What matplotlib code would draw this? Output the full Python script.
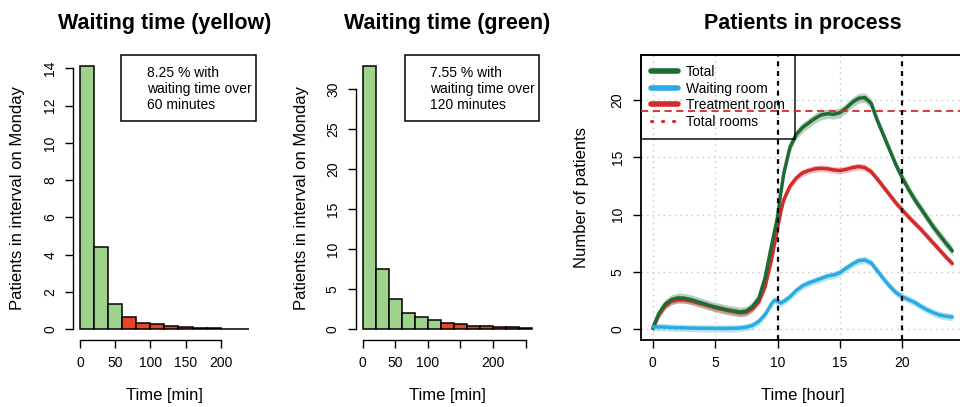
import matplotlib
matplotlib.use("Agg")
import matplotlib.pyplot as plt
from matplotlib.patches import Rectangle
from matplotlib.lines import Line2D

plt.rcParams['font.family'] = ['Liberation Sans', 'DejaVu Sans']

# ---------------- data ----------------
# Histogram 1 (yellow): 20-minute bins from 0 to 240
yellow_edges = [0, 20, 40, 60, 80, 100, 120, 140, 160, 180, 200, 220]
yellow_counts = [14.13, 4.40, 1.34, 0.66, 0.36, 0.30, 0.18, 0.12, 0.08, 0.05, 0.03, 0.02]
yellow_threshold = 60
yellow_text = "8.25 % with\nwaiting time over\n60 minutes"
yellow_xticks = [0, 50, 100, 150, 200]
yellow_xticklabels = ["0", "50", "100", "150", "200"]
yellow_yticks = [0, 2, 4, 6, 8, 10, 12, 14]

# Histogram 2 (green): 20-minute bins from 0 to 260
green_edges = [0, 20, 40, 60, 80, 100, 120, 140, 160, 180, 200, 220, 240]
green_counts = [32.9, 7.5, 3.75, 2.0, 1.58, 1.17, 0.83, 0.62, 0.46, 0.37, 0.25, 0.25, 0.12]
green_threshold = 120
green_text = "7.55 % with\nwaiting time over\n120 minutes"
green_xticks = [0, 50, 100, 150, 200, 250]
green_xticklabels = ["0", "50", "100", "", "200", ""]
green_yticks = [0, 5, 10, 15, 20, 25, 30]

# Patients in process
hours = [0, 0.5, 1, 1.5, 2, 2.5, 3, 3.5, 4, 4.5, 5, 5.5, 6, 6.5, 7, 7.5, 8, 8.5,
         9, 9.5, 9.75, 10, 10.25, 10.5, 11, 11.5, 12, 12.5, 13, 13.5, 14, 14.5,
         15, 15.5, 16, 16.5, 17, 17.5, 18, 18.5, 19, 19.5, 20, 20.5, 21, 21.5,
         22, 22.5, 23, 23.5, 24]
total = [0.1, 1.4, 2.2, 2.6, 2.75, 2.73, 2.62, 2.45, 2.28, 2.1, 1.95, 1.82, 1.7,
         1.6, 1.52, 1.6, 2.0, 2.7, 4.5, 7.2, 8.5, 9.8, 11.8, 13.6, 15.9, 17.0,
         17.6, 18.0, 18.4, 18.7, 18.8, 18.75, 18.9, 19.3, 19.8, 20.15, 20.2,
         19.7, 18.2, 16.9, 15.6, 14.3, 13.2, 12.2, 11.3, 10.5, 9.7, 8.9, 8.2,
         7.5, 6.85]
waiting = [0.22, 0.22, 0.2, 0.17, 0.15, 0.14, 0.12, 0.11, 0.1, 0.1, 0.09, 0.09,
           0.09, 0.1, 0.12, 0.2, 0.35, 0.7, 1.3, 2.2, 2.55, 2.45, 2.3, 2.45,
           2.85, 3.4, 3.8, 4.05, 4.25, 4.45, 4.65, 4.75, 4.95, 5.35, 5.7, 6.0,
           6.05, 5.8, 5.1, 4.4, 3.75, 3.2, 2.85, 2.6, 2.35, 2.0, 1.7, 1.45,
           1.25, 1.15, 1.08]
treatment = [0.1, 1.3, 2.05, 2.45, 2.58, 2.57, 2.5, 2.35, 2.2, 2.05, 1.9, 1.78,
             1.65, 1.55, 1.45, 1.5, 1.8, 2.4, 3.7, 6.0, 7.4, 8.8, 10.2, 11.3,
             12.5, 13.2, 13.65, 13.85, 14.0, 14.05, 14.0, 13.9, 13.85, 13.95,
             14.1, 14.2, 14.1, 13.75, 13.1, 12.4, 11.7, 11.0, 10.4, 9.8, 9.25,
             8.7, 8.1, 7.5, 6.9, 6.3, 5.75]
band_total = 0.42
band_waiting = 0.32
band_treatment = 0.3
total_rooms = 19
shift_changes = [10, 20]
series_names = ["Total", "Waiting room", "Treatment room", "Total rooms"]

# ---------------- style ----------------
C_GREEN_BAR = "#9fd38b"
C_RED_BAR = "#ea4526"
C_TOTAL = "#1f6b34"
C_WAIT = "#2aace2"
C_TREAT = "#d42a2a"
FIG_W, FIG_H = 960, 407
TICK_LEN = 5.5
TICK_FS = 10
LEG_FS = 10
LAB_FS = 12
TITLE_FS = 15.5


def ax_rect(left, right, top, bottom):
    return [left / FIG_W, 1 - bottom / FIG_H, (right - left) / FIG_W, (bottom - top) / FIG_H]


fig = plt.figure(figsize=(9.6, 4.07), dpi=100)


def style_hist_axes(ax):
    for s in ("top", "right"):
        ax.spines[s].set_visible(False)
    for s in ("left", "bottom"):
        ax.spines[s].set_linewidth(1.0)
    ax.tick_params(direction="out", length=TICK_LEN, width=1.0, labelsize=TICK_FS, pad=6)
    ax.tick_params(axis="y", labelrotation=90)
    for lab in ax.get_yticklabels():
        lab.set_va("center")


def draw_hist(ax, edges, counts, thr, xticks, xticklabels, yticks, xlim, ylim,
              note, note_x0, note_tx, title, ylab_x):
    widths = [edges[1] - edges[0]] * len(edges)
    colors = [C_RED_BAR if e >= thr else C_GREEN_BAR for e in edges]
    ax.bar(edges, counts, width=widths, align="edge", color=colors,
           edgecolor="black", linewidth=1.1)
    ax.set_xlim(*xlim)
    ax.set_ylim(*ylim)
    ax.set_xticks(xticks)
    ax.set_xticklabels(xticklabels)
    ax.set_yticks(yticks)
    ax.set_yticklabels([str(v) for v in yticks])
    style_hist_axes(ax)
    ax.spines["bottom"].set_bounds(xticks[0], xticks[-1])
    ax.spines["left"].set_bounds(yticks[0], yticks[-1])
    ax.set_title(title, fontsize=TITLE_FS, fontweight="bold", pad=19)
    ax.set_xlabel("Time [min]", fontsize=LAB_FS)
    ax.xaxis.set_label_coords(0.5, -0.168)
    ax.set_ylabel("Patients in interval on Monday", fontsize=LAB_FS)
    ax.yaxis.set_label_coords(ylab_x, 0.5)
    rect = Rectangle((note_x0, 0.768), 1 - note_x0, 0.232, transform=ax.transAxes,
                     fill=False, edgecolor="black", linewidth=1.1, clip_on=False)
    ax.add_patch(rect)
    ax.text(note_tx, 0.8805, note, transform=ax.transAxes, fontsize=TICK_FS,
            ha="left", va="center", linespacing=1.2)


ax1 = fig.add_axes(ax_rect(73.2, 255.6, 55.3, 339.8))
draw_hist(ax1, yellow_edges, yellow_counts, yellow_threshold, yellow_xticks,
          yellow_xticklabels, yellow_yticks, (-9.6, 249.6), (-0.565, 14.7),
          yellow_text, 0.262, 0.403, "Waiting time (yellow)", -0.262)

ax2 = fig.add_axes(ax_rect(355.9, 539.0, 55.3, 339.8))
draw_hist(ax2, green_edges, green_counts, green_threshold, green_xticks,
          green_xticklabels, green_yticks, (-10.4, 270.4), (-1.32, 34.2),
          green_text, 0.268, 0.405, "Waiting time (green)", -0.258)

# ---------------- Patients in process ----------------
ax3 = fig.add_axes(ax_rect(640.7, 964.3, 55.0, 340.0))
ax3.set_xlim(-0.96, 24.96)
ax3.set_ylim(-0.92, 23.92)
grid_ticks = [0, 5, 10, 15, 20]
for g in grid_ticks:
    ax3.axvline(g, color="#c4c4c4", linestyle=(0, (1, 3)), linewidth=1.0, zorder=0)
    ax3.axhline(g, color="#c4c4c4", linestyle=(0, (1, 3)), linewidth=1.0, zorder=0)

ax3.fill_between(hours, [v - band_total for v in total], [v + band_total for v in total],
                 color=C_TOTAL, alpha=0.32, linewidth=0, zorder=2)
ax3.fill_between(hours, [v - band_treatment for v in treatment],
                 [v + band_treatment for v in treatment],
                 color=C_TREAT, alpha=0.28, linewidth=0, zorder=2)
ax3.fill_between(hours, [v - band_waiting for v in waiting], [v + band_waiting for v in waiting],
                 color=C_WAIT, alpha=0.32, linewidth=0, zorder=2)
ax3.plot(hours, treatment, color=C_TREAT, linewidth=2.5, zorder=3, solid_capstyle="round")
ax3.plot(hours, total, color=C_TOTAL, linewidth=2.5, zorder=3, solid_capstyle="round")
ax3.plot(hours, waiting, color=C_WAIT, linewidth=2.5, zorder=3, solid_capstyle="round")

ax3.axhline(total_rooms, color=C_TREAT, linestyle=(0, (4, 2.5)), linewidth=1.3, zorder=6)
for s in shift_changes:
    ax3.axvline(s, color="black", linestyle=(0, (2.2, 2.2)), linewidth=1.6, zorder=6)

ax3.set_xticks(grid_ticks)
ax3.set_yticks(grid_ticks)
ax3.tick_params(direction="out", length=TICK_LEN, width=1.0, labelsize=TICK_FS, pad=6)
ax3.tick_params(axis="y", labelrotation=90)
for lab in ax3.get_yticklabels():
    lab.set_va("center")
for s in ax3.spines.values():
    s.set_linewidth(1.3)
ax3.set_title("Patients in process", fontsize=TITLE_FS, fontweight="bold", pad=19)
ax3.set_xlabel("Time [hour]", fontsize=LAB_FS)
ax3.xaxis.set_label_coords(0.5, -0.168)
ax3.set_ylabel("Number of patients", fontsize=LAB_FS)
ax3.yaxis.set_label_coords(-0.16, 0.5)

handles = [
    Line2D([], [], color=C_TOTAL, linewidth=4, solid_capstyle="round"),
    Line2D([], [], color=C_WAIT, linewidth=4, solid_capstyle="round"),
    Line2D([], [], color=C_TREAT, linewidth=4, solid_capstyle="round"),
    Line2D([], [], color=C_TREAT, linewidth=2.2, linestyle=(0, (0.4, 3.2)),
           dash_capstyle="round"),
]
leg = ax3.legend(handles, series_names, loc="upper left", bbox_to_anchor=(0, 1),
                 borderaxespad=0, fontsize=LEG_FS, frameon=True, fancybox=False,
                 handlelength=1.95, handletextpad=0.6, labelspacing=0.18,
                 borderpad=0.72)
leg.get_frame().set_edgecolor("black")
leg.get_frame().set_facecolor("none")
leg.get_frame().set_linewidth(1.3)
leg.set_zorder(5)

fig.savefig("out.png", dpi=100)
